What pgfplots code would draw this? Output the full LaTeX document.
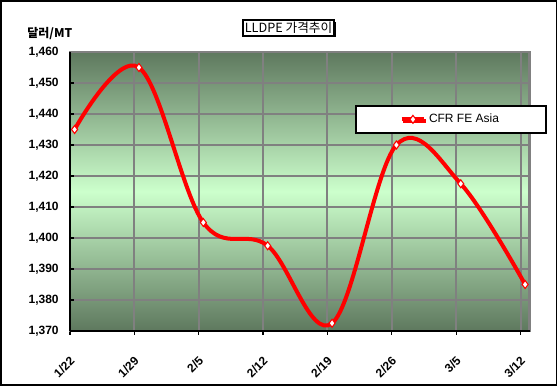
\documentclass[border=0pt]{standalone}
\usepackage{fontspec}
\setmainfont{Liberation Sans}
\newfontfamily\kr{Noto Sans CJK KR}
\usepackage{pgfplots}
\pgfplotsset{compat=1.18}
\usetikzlibrary{shadows}
\definecolor{darkbg}{RGB}{94,120,94}
\definecolor{lightbg}{RGB}{204,255,204}
\definecolor{gridgray}{RGB}{128,128,128}
\begin{document}
\begin{tikzpicture}
\useasboundingbox (0,0) rectangle (418.5pt,292.5pt);
\fill[white] (0,0) rectangle (418.5pt,292.5pt);
\draw[black, line width=0.9pt] (0.75pt,3.75pt) rectangle (417.4pt,291.75pt);
\begin{axis}[
  at={(52.5pt,44.25pt)}, anchor=south west,
  scale only axis, width=344.8pt, height=209.25pt,
  xmin=0, xmax=50, ymin=1370, ymax=1460,
  xtick={0,7,14,21,28,35,42,49},
  xticklabels={1/22,1/29,2/5,2/12,2/19,2/26,3/5,3/12},
  ytick={1370,1380,...,1460},
  /pgf/number format/assume math mode=true,
  /pgf/number format/1000 sep={,},
  tick label style={font=\fontsize{9}{10}\selectfont\bfseries},
  xticklabel style={rotate=45, anchor=east, xshift=-10pt, yshift=-16pt},
  yticklabel style={xshift=-5pt},
  grid=major,
  major grid style={gridgray, line width=1.5pt},
  axis line style={gridgray, line width=2.2pt},
  tick style={black, line width=1pt},
  major tick length=3pt,
  xtick pos=bottom, ytick pos=left,
  x tick style={/pgfplots/major tick length=-3pt},
  axis background/.style={top color=darkbg, bottom color=darkbg, middle color=lightbg},
  legend style={at={(0.619,0.81)}, anchor=north west, draw=black, line width=1.5pt,
    fill=white, inner xsep=33pt, inner ysep=4pt,
    font=\fontsize{9}{10}\selectfont,
    drop shadow={shadow xshift=1pt, shadow yshift=-1pt, opacity=1, fill=black}},
  legend cell align=left,
  clip=false,
]
\addplot[red, line width=3pt, smooth, tension=0.6,
  mark=diamond*, mark size=3pt,
  mark options={fill=white, draw=red, line width=0.8pt}]
  coordinates {
  (0.5,1435) (7.5,1455) (14.5,1405) (21.5,1397.5)
  (28.5,1372.5) (35.5,1430) (42.5,1417.5) (49.5,1385)
  };
\addlegendentry{CFR FE Asia}
\end{axis}
\draw[black, line width=2.2pt] (52.5pt,44.25pt) -- (52.5pt,253.5pt);
\draw[black, line width=2.2pt] (52.5pt,44.25pt) -- (397.3pt,44.25pt);
\node[draw=black, line width=1.3pt, fill=white, inner xsep=1.5pt, inner ysep=1.5pt,
  font=\fontsize{9.5}{10}\selectfont\kr,
  drop shadow={shadow xshift=1pt, shadow yshift=-1pt, opacity=1, fill=black}]
  at (216.4pt,271.5pt) {LLDPE 가격추이};
\node[font=\fontsize{9}{10}\selectfont\bfseries\kr, anchor=west] at (17pt,267.5pt) {달러/MT};
\end{tikzpicture}
\end{document}
